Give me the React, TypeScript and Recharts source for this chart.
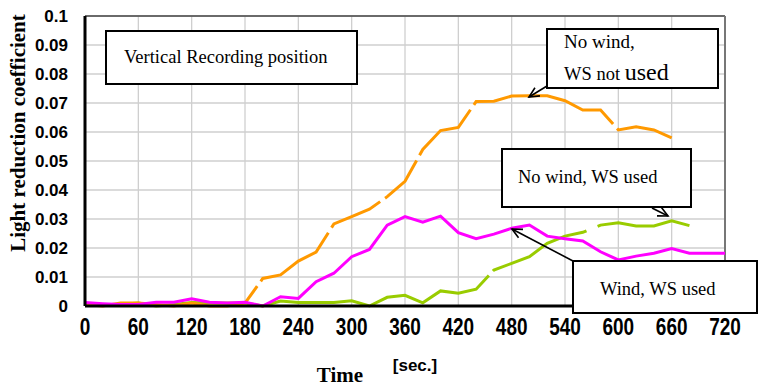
import { LineChart, Line, XAxis, YAxis, CartesianGrid, ReferenceLine } from "recharts";

// time in seconds, one sample every 20 s
const TIMES = [
  0, 20, 40, 60, 80, 100, 120, 140, 160, 180, 200, 220, 240, 260, 280, 300, 320, 340, 360,
  380, 400, 420, 440, 460, 480, 500, 520, 540, 560, 580, 600, 620, 640, 660, 680, 700, 720,
];

// No wind, WS not used (orange) - stops at 660 s
const NO_WIND_NO_WS = [
  0.0005, 0, 0.001, 0.001, 0.0005, 0, 0.001, 0, 0, 0.001, 0.0095, 0.0107, 0.0155, 0.0186,
  0.0283, 0.0308, 0.0334, 0.0377, 0.043, 0.054, 0.0605, 0.0616, 0.0705, 0.0706, 0.0724,
  0.0725, 0.0725, 0.0708, 0.0676, 0.0676, 0.0607, 0.0618, 0.0607, 0.058,
];

// Wind, WS used (magenta)
const WIND_WS = [
  0.0012, 0.0008, 0.0005, 0.0005, 0.0013, 0.0013, 0.0025, 0.0013, 0.001, 0.0013, 0, 0.0032,
  0.0026, 0.0084, 0.0113, 0.017, 0.0195, 0.0279, 0.0308, 0.0289, 0.031, 0.0253, 0.0232,
  0.0248, 0.0268, 0.0279, 0.0241, 0.0232, 0.0224, 0.0187, 0.0159, 0.0172, 0.0182, 0.0198,
  0.0182, 0.0182, 0.0182,
];

// No wind, WS used (yellow-green) - stops at 680 s
const NO_WIND_WS = [
  0.0005, 0.0003, 0.0005, 0.001, 0, 0.0005, 0.0012, 0.001, 0.001, 0.001, 0, 0.0017, 0.0012,
  0.0012, 0.0012, 0.0018, 0, 0.003, 0.0037, 0.0011, 0.0052, 0.0044, 0.0058, 0.0124, 0.0147,
  0.017, 0.0216, 0.0241, 0.0254, 0.0279, 0.0287, 0.0276, 0.0276, 0.0294, 0.0277,
];

const X_TICKS = [0, 60, 120, 180, 240, 300, 360, 420, 480, 540, 600, 660, 720];
const Y_TICKS = [0, 0.01, 0.02, 0.03, 0.04, 0.05, 0.06, 0.07, 0.08, 0.09, 0.1];

const data = TIMES.map((t, i) => ({
  t,
  noWindNoWs: i < NO_WIND_NO_WS.length ? NO_WIND_NO_WS[i] : null,
  windWs: WIND_WS[i],
  noWindWs: i < NO_WIND_WS.length ? NO_WIND_WS[i] : null,
}));

const SANS = "'Liberation Sans', Arial, sans-serif";
const SERIF = "'Liberation Serif', 'Times New Roman', serif";

const XTick = (props: any) => {
  const { x, y, payload } = props;
  return (
    <text
      transform={`translate(${x}, ${y + 29}) scale(1, 1.3)`}
      textAnchor="middle"
      fontFamily={SANS}
      fontWeight="bold"
      fontSize={19}
      fill="#000"
    >
      {payload.value}
    </text>
  );
};

const Arrow = ({ x1, y1, x2, y2 }: { x1: number; y1: number; x2: number; y2: number }) => {
  const a = Math.atan2(y2 - y1, x2 - x1);
  const len = 11;
  const spread = 0.45;
  const p1 = [x2 - len * Math.cos(a - spread), y2 - len * Math.sin(a - spread)];
  const p2 = [x2 - len * Math.cos(a + spread), y2 - len * Math.sin(a + spread)];
  return (
    <g stroke="#000" strokeWidth={1.6} fill="none">
      <line x1={x1} y1={y1} x2={x2} y2={y2} />
      <polyline points={`${p1[0]},${p1[1]} ${x2},${y2} ${p2[0]},${p2[1]}`} />
    </g>
  );
};

export default function App() {
  return (
    <div style={{ position: "absolute", left: 0, top: 0, width: 760, height: 386, background: "#fff" }}>
      <LineChart
        width={760}
        height={386}
        data={data}
        margin={{ top: 16, right: 35, bottom: 50, left: 10 }}
      >
        <CartesianGrid stroke="#cfcfcf" strokeWidth={1.3} />
        <XAxis
          dataKey="t"
          type="number"
          domain={[0, 720]}
          ticks={X_TICKS}
          height={30}
          tickLine={false}
          tickSize={0}
          tickMargin={0}
          axisLine={{ stroke: "#000", strokeWidth: 3 }}
          tick={<XTick />}
        />
        <YAxis
          type="number"
          domain={[0, 0.1]}
          ticks={Y_TICKS}
          width={75}
          tickLine={false}
          tickSize={0}
          tickMargin={17}
          axisLine={{ stroke: "#000", strokeWidth: 3 }}
          tickFormatter={(v: number) => String(Number(v.toFixed(2)))}
          tick={{ fill: "#000", fontFamily: SANS, fontWeight: "bold", fontSize: 17 }}
        />
        <ReferenceLine y={0.1} stroke="#444" strokeWidth={1.5} />
        <ReferenceLine x={720} stroke="#777" strokeWidth={2} />
        <Line
          dataKey="noWindWs"
          stroke="#99cc00"
          strokeWidth={3}
          strokeDasharray="420 6 103 12 400 6"
          dot={false}
          isAnimationActive={false}
        />
        <Line
          dataKey="noWindNoWs"
          stroke="#ff9900"
          strokeWidth={3}
          strokeDasharray="182 6 87 6 56 6 50 6 72 6 151 6 200 6"
          dot={false}
          isAnimationActive={false}
        />
        <Line
          dataKey="windWs"
          stroke="#ff00ff"
          strokeWidth={3}
          dot={false}
          isAnimationActive={false}
        />
      </LineChart>

      <svg
        width={760}
        height={386}
        style={{ position: "absolute", left: 0, top: 0, pointerEvents: "none" }}
      >
        {/* axis titles */}
        <text
          transform="translate(25, 133) rotate(-90)"
          textAnchor="middle"
          fontFamily={SERIF}
          fontWeight="bold"
          fontSize={21}
          fill="#000"
        >
          Light reduction coefficient
        </text>
        <text x={340} y={382} textAnchor="middle" fontFamily={SERIF} fontWeight="bold" fontSize={21} fill="#000">
          Time
        </text>
        <text x={415} y={371} textAnchor="middle" fontFamily={SANS} fontWeight="bold" fontSize={17} fill="#000">
          [sec.]
        </text>

        {/* annotation boxes */}
        <rect x={106} y={31} width={251} height={53} fill="#fff" stroke="#000" strokeWidth={2} />
        <text x={124} y={63} fontFamily={SERIF} fontSize={18.5} fill="#000">
          Vertical Recording position
        </text>

        <rect x={547} y={29} width={171} height={59} fill="#fff" stroke="#000" strokeWidth={2} />
        <text x={564} y={48} fontFamily={SERIF} fontSize={19} fill="#000">
          No wind,
        </text>
        <text x={564} y={80} fontFamily={SERIF} fontSize={18.5} fill="#000">
          WS not <tspan fontSize={24}>used</tspan>
        </text>
        <Arrow x1={547} y1={86} x2={529} y2={97} />

        <rect x={502} y={149} width={189} height={58} fill="#fff" stroke="#000" strokeWidth={2} />
        <text x={518} y={183} fontFamily={SERIF} fontSize={18.5} fill="#000">
          No wind, WS used
        </text>
        <Arrow x1={652} y1={208} x2={668} y2={216} />

        <rect x={573} y={261} width={184} height={52} fill="#fff" stroke="#000" strokeWidth={2} />
        <text x={600} y={295} fontFamily={SERIF} fontSize={18.5} fill="#000">
          Wind, WS used
        </text>
        <Arrow x1={573} y1={261} x2={512} y2={229} />
      </svg>
    </div>
  );
}
